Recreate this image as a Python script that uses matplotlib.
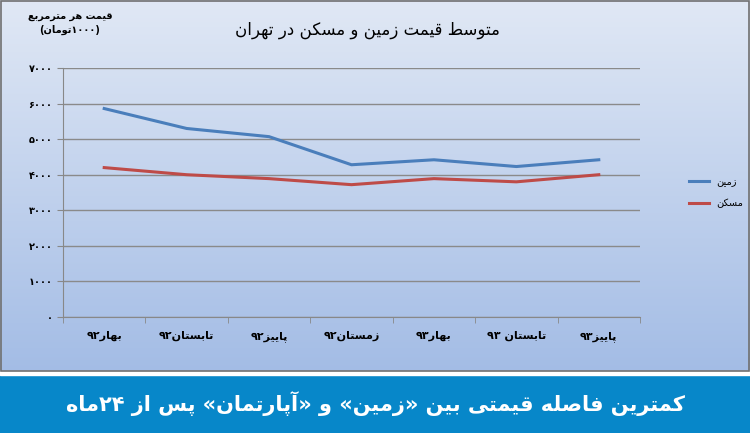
import numpy as np
import matplotlib
matplotlib.use('Agg')
import matplotlib.pyplot as plt

plt.rcParams['font.family'] = ['DejaVu Sans']

categories = ['بهار۹۲', 'تابستان۹۲', 'پاییز۹۲', 'زمستان۹۲', 'بهار۹۳', 'تابستان ۹۳', 'پاییز۹۳']
land = [5860, 5300, 5070, 4280, 4420, 4230, 4420]
housing = [4200, 4000, 3890, 3720, 3890, 3800, 4000]
yticks = [0, 1000, 2000, 3000, 4000, 5000, 6000, 7000]

# presentation forms: isolated, final, initial, medial
FORMS = {}
for ch, base, n in [('آ', 0xFE81, 2), ('ا', 0xFE8D, 2), ('ب', 0xFE8F, 4), ('ت', 0xFE95, 4),
                    ('ث', 0xFE99, 4), ('ج', 0xFE9D, 4), ('ح', 0xFEA1, 4), ('خ', 0xFEA5, 4),
                    ('د', 0xFEA9, 2), ('ذ', 0xFEAB, 2), ('ر', 0xFEAD, 2), ('ز', 0xFEAF, 2),
                    ('س', 0xFEB1, 4), ('ش', 0xFEB5, 4), ('ص', 0xFEB9, 4), ('ض', 0xFEBD, 4),
                    ('ط', 0xFEC1, 4), ('ظ', 0xFEC5, 4), ('ع', 0xFEC9, 4), ('غ', 0xFECD, 4),
                    ('ف', 0xFED1, 4), ('ق', 0xFED5, 4), ('ل', 0xFEDD, 4), ('م', 0xFEE1, 4),
                    ('ن', 0xFEE5, 4), ('ه', 0xFEE9, 4), ('و', 0xFEED, 2),
                    ('پ', 0xFB56, 4), ('چ', 0xFB7A, 4), ('ژ', 0xFB8A, 2), ('ک', 0xFB8E, 4),
                    ('گ', 0xFB92, 4), ('ی', 0xFBFC, 4)]:
    FORMS[ch] = [chr(base + i) for i in range(n)]
MIRROR = {'(': ')', ')': '(', '«': '»', '»': '«'}


def fa(s):
    out = []
    for i, c in enumerate(s):
        if c not in FORMS:
            out.append(c)
            continue
        prev = s[i - 1] if i > 0 else ''
        nxt = s[i + 1] if i + 1 < len(s) else ''
        jp = prev in FORMS and len(FORMS[prev]) == 4
        jn = nxt in FORMS and len(FORMS[c]) == 4
        f = FORMS[c]
        if jp and jn:
            out.append(f[3])
        elif jp:
            out.append(f[1])
        elif jn:
            out.append(f[2])
        else:
            out.append(f[0])
    # reverse, keeping digit runs in order
    tokens = []
    for c in out:
        if c.isdigit() and tokens and tokens[-1][-1].isdigit():
            tokens[-1] += c
        else:
            tokens.append(MIRROR.get(c, c))
    return ''.join(reversed(tokens))


def pdig(v):
    return str(v).translate(str.maketrans('0123456789', '۰۱۲۳۴۵۶۷۸۹'))


fig = plt.figure(figsize=(7.5, 4.33), dpi=100)
bg = fig.add_axes([0, 0, 1, 1])
grad = np.linspace(0, 1, 256)[:, None]
top = np.array([0.88, 0.91, 0.96])
bot = np.array([0.60, 0.71, 0.89])
img = top + (bot - top) * grad[..., None]
bg.imshow(img, aspect='auto', extent=[0, 1, 0, 1])
bg.add_patch(plt.Rectangle((0, 0), 1, 58 / 433, color='#0787c9'))
bg.add_patch(plt.Rectangle((0, 58 / 433), 1, 4 / 433, color='white'))
bg.add_patch(plt.Rectangle((0.001, 62 / 433), 0.997, 371 / 433 - 0.003, fill=False, ec='#707070', lw=1.2))
bg.set_xlim(0, 1)
bg.set_ylim(0, 1)
bg.axis('off')

ax = fig.add_axes([63 / 750, 1 - 317 / 433, 577 / 750, 249 / 433])
ax.patch.set_alpha(0)
x = np.arange(len(categories))
ax.plot(x, land, color='#4a7ebb', lw=2.2, label=fa('زمین'))
ax.plot(x, housing, color='#be4b48', lw=2.2, label=fa('مسکن'))
ax.set_xlim(-0.5, len(categories) - 0.5)
ax.set_ylim(0, 7000)
ax.set_yticks(yticks)
ax.set_yticklabels([pdig(v) for v in yticks], fontsize=7, fontweight='bold')
ax.set_xticks(x)
ax.set_xticklabels([fa(c) for c in categories], fontsize=8, fontweight='bold')
ax.set_xticks(np.arange(-0.5, len(categories)), minor=True)
ax.tick_params(axis='x', which='major', length=0, pad=10)
ax.tick_params(axis='x', which='minor', length=4, color='#888888')
ax.tick_params(axis='y', length=4, color='#888888')
ax.yaxis.grid(True, color='#8a8a8a', lw=1)
ax.set_axisbelow(True)
for s in ['top', 'right']:
    ax.spines[s].set_visible(False)
ax.spines['left'].set_color('#888888')
ax.spines['bottom'].set_color('#888888')

fig.text(0.49, 1 - 30 / 433, fa('متوسط قیمت زمین و مسکن در تهران'), fontsize=12, ha='center', va='center')
fig.text(70 / 750, 1 - 17 / 433, fa('قیمت هر مترمربع'), fontsize=7, fontweight='bold', ha='center', va='center')
fig.text(70 / 750, 1 - 30 / 433, fa('(۱۰۰۰تومان)'), fontsize=7, fontweight='bold', ha='center', va='center')
fig.text(0.5, 29 / 433, fa('کمترین فاصله قیمتی بین «زمین» و «آپارتمان» پس از ۲۴ماه'),
         fontsize=15, fontweight='bold', color='white', ha='center', va='center')

ax.legend(loc='center left', bbox_to_anchor=(1.07, 0.5), frameon=False, fontsize=7,
          handlelength=2, labelspacing=1.2)

fig.savefig('out.png', dpi=100)
